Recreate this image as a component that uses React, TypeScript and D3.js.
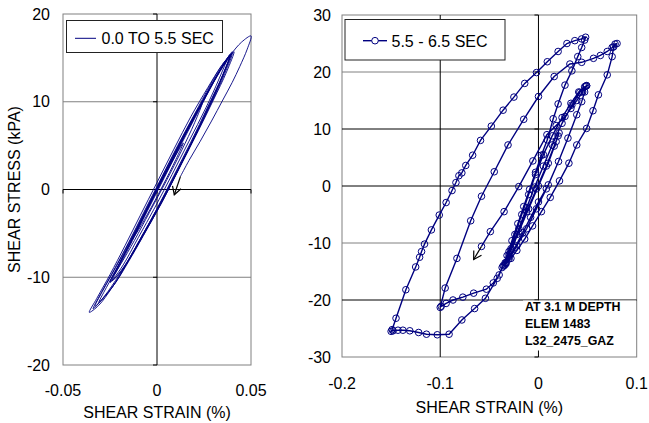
import React from "react";
import * as d3 from "d3";

// Stress-strain history, 0.0 to 5.5 sec: [shear strain (%), shear stress (kPa)]
const earlyStrain: number[] = [
  0.000, 0.005, 0.011, 0.014, 0.010, 0.003, -0.005, -0.011, -0.014, -0.010,
  -0.003, 0.005, 0.013, 0.020, 0.024, 0.020, 0.013, 0.005, -0.004, -0.012,
  -0.019, -0.023, -0.019, -0.011, -0.003, 0.006, 0.015, 0.024, 0.032, 0.038,
  0.041, 0.037, 0.030, 0.022, 0.013, 0.004, -0.005, -0.014, -0.022, -0.029,
  -0.033, -0.029, -0.022, -0.014, -0.006, 0.003, 0.012, 0.021, 0.030, 0.036,
  0.040, 0.036, 0.029, 0.020, 0.011, 0.002, -0.007, -0.016, -0.024, -0.031,
  -0.036, -0.032, -0.025, -0.017, -0.009, 0.000, 0.009, 0.018, 0.027, 0.034,
  0.039, 0.035, 0.028, 0.019, 0.010, 0.001, -0.008, -0.016, -0.022, -0.025,
  -0.021, -0.014, -0.006, 0.003, 0.012, 0.021, 0.029, 0.035, 0.039, 0.035,
  0.028, 0.020, 0.011, 0.002, -0.007, -0.015, -0.022, -0.028, -0.031, -0.027,
  -0.020, -0.012, -0.004, 0.005, 0.014, 0.023, 0.031, 0.037, 0.040, 0.036,
  0.029, 0.021, 0.012, 0.003, -0.006, -0.014, -0.020, -0.024,
  -0.020, -0.013, -0.005, 0.004, 0.013, 0.022, 0.030, 0.036, 0.039,
  0.035, 0.027, 0.018, 0.009, 0.000, -0.009, -0.018, -0.026, -0.032, -0.034,
  -0.030, -0.023, -0.015, -0.007, 0.002, 0.011, 0.020, 0.028, 0.034, 0.037,
  0.033, 0.026, 0.017, 0.008, -0.001, -0.010, -0.018, -0.023, -0.025,
  -0.020, -0.013,
  -0.005, 0.004, 0.013, 0.022, 0.031, 0.039, 0.045, 0.050, 0.048, 0.044,
  0.040, 0.035, 0.029, 0.023, 0.017, 0.0125,
];
const earlyStress: number[] = [
  0.0, 2.0, 4.3, 5.3, 3.4, 0.4, -2.8, -5.0, -5.9, -4.2,
  -1.2, 2.2, 5.6, 8.4, 9.8, 7.6, 4.4, 1.0, -2.6, -5.8,
  -8.4, -9.8, -8.0, -4.8, -1.4, 2.4, 6.2, 9.8, 12.9, 14.9,
  15.7, 13.4, 10.2, 6.7, 2.9, -0.9, -4.4, -7.8, -10.6, -12.5,
  -13.3, -11.6, -8.9, -5.7, -2.3, 1.5, 5.3, 8.9, 12.2, 14.4,
  15.5, 13.2, 9.9, 6.0, 2.1, -1.7, -5.1, -8.4, -11.2, -13.2,
  -14.0, -12.4, -9.7, -6.4, -3.0, 0.8, 4.6, 8.3, 11.6, 14.0,
  15.3, 13.0, 9.6, 5.6, 1.8, -1.9, -5.3, -8.3, -10.0, -10.6,
  -8.9, -6.0, -2.6, 1.2, 5.0, 8.7, 11.9, 14.1, 15.4, 13.1,
  9.8, 6.1, 2.3, -1.4, -4.9, -8.0, -10.6, -12.2, -12.9, -11.2,
  -8.5, -5.2, -1.7, 2.1, 5.9, 9.5, 12.7, 14.8, 15.7, 13.5,
  10.0, 6.4, 2.5, -1.2, -4.7, -7.7, -9.6, -10.4,
  -8.7, -5.8, -2.4, 1.4, 5.2, 8.9, 12.2, 14.5, 15.4,
  13.0, 9.4, 5.4, 1.6, -2.2, -5.7, -9.0, -11.6, -13.2, -13.6,
  -11.9, -9.2, -6.0, -2.6, 1.2, 5.0, 8.6, 11.8, 14.0, 14.8,
  12.6, 9.3, 5.5, 1.7, -2.0, -5.5, -8.6, -10.1, -10.5,
  -8.4, -5.4,
  -2.0, 1.8, 5.6, 9.2, 12.7, 15.3, 16.8, 17.5, 16.0, 14.0,
  12.2, 10.2, 7.8, 5.5, 3.3, 1.5,
];
const earlyEndTip: [number, number] = [0.0092, -0.6];

// Stress-strain history, 5.5 to 6.5 sec
const lateStrain: number[] = [
  0.008, -0.002, -0.012, -0.022, -0.030, -0.034, -0.030, -0.022, -0.012, -0.002,
  0.008, 0.016, 0.020, 0.021, 0.018, 0.010, 0.000, -0.010, -0.020, -0.028,
  -0.034, -0.037, -0.042, -0.054, -0.065, -0.078, -0.091, -0.103, -0.114, -0.122,
  -0.131, -0.138, -0.143, -0.148, -0.150, -0.149, -0.145, -0.135, -0.125, -0.121,
  -0.119, -0.116, -0.109, -0.101, -0.094, -0.088, -0.084, -0.081, -0.078, -0.074,
  -0.067, -0.059, -0.048, -0.036, -0.025, -0.014, -0.002, 0.009, 0.020, 0.029,
  0.037, 0.044, 0.048, 0.047, 0.044, 0.040, 0.034, 0.027, 0.020, 0.015,
  0.009, 0.003, -0.003, -0.009, -0.015, -0.021, -0.027, -0.032, -0.036, -0.040,
  -0.046, -0.053, -0.066, -0.077, -0.087, -0.094, -0.099, -0.100, -0.095, -0.083,
  -0.069, -0.058, -0.045, -0.031, -0.015, 0.000, 0.016, 0.032, 0.044, 0.056,
  0.063, 0.070, 0.075, 0.078, 0.080, 0.0765, 0.075, 0.070, 0.061, 0.0555,
  0.049, 0.039, 0.031, 0.0214, 0.012, 0.003, -0.006, -0.014, -0.022, -0.028,
  -0.033, -0.035, -0.030, -0.024, -0.017, -0.010, -0.003, 0.005, 0.014, 0.024,
  0.033, 0.041, 0.047, 0.049, 0.047, 0.044, 0.039, 0.030, 0.0204, 0.010,
  0.000, -0.008, -0.016, -0.024, -0.030, -0.033, -0.028, -0.020, -0.012, -0.004,
  0.005, 0.014, 0.024, 0.034, 0.042, 0.048, 0.049, 0.045, 0.039, 0.033,
  0.027, 0.018, 0.0086, -0.0057, -0.020, -0.035, -0.049, -0.058,
];
const lateStress: number[] = [
  -0.5, -4.0, -7.5, -10.5, -12.8, -13.8, -12.0, -8.5, -4.5, -0.5,
  3.5, 7.0, 8.8, 9.3, 7.8, 4.0, 0.0, -4.0, -8.0, -11.3,
  -13.5, -14.3, -16.2, -19.7, -21.5, -23.5, -26.0, -26.1, -26.0, -25.7,
  -25.4, -25.3, -25.3, -25.4, -25.5, -25.2, -23.2, -18.2, -14.2, -12.5,
  -11.5, -10.2, -7.7, -5.1, -2.9, -0.8, 0.6, 1.8, 2.3, 3.6,
  5.4, 8.0, 10.5, 13.3, 15.6, 18.0, 19.9, 21.8, 23.6, 25.0,
  25.5, 25.8, 26.1, 25.6, 24.3, 22.7, 20.2, 17.7, 14.4, 11.8,
  8.1, 5.4, 2.4, -0.6, -3.6, -6.6, -9.6, -12.2, -14.0, -15.6,
  -17.0, -18.1, -18.8, -19.5, -20.0, -20.6, -21.1, -21.3, -17.9, -12.7,
  -6.1, -1.8, 2.5, 7.2, 11.7, 15.7, 19.2, 21.4, 21.7, 22.4,
  22.9, 23.6, 24.3, 24.9, 25.0, 24.4, 22.7, 19.5, 16.0, 13.2,
  10.1, 7.2, 4.0, 0.9, -2.0, -4.5, -7.0, -9.3, -11.3, -12.7,
  -13.6, -14.0, -11.5, -8.5, -5.0, -1.5, 2.0, 5.5, 8.8, 12.0,
  14.5, 16.5, 17.4, 17.6, 16.5, 14.8, 12.5, 8.4, 4.3, 0.2,
  -2.8, -5.5, -8.2, -10.8, -12.5, -13.4, -11.0, -7.5, -3.8, -0.2,
  3.5, 7.2, 11.0, 14.2, 16.4, 17.5, 17.6, 16.5, 15.0, 13.6,
  12.2, 10.6, 9.0, 4.4, -0.1, -4.5, -8.0, -10.6,
];
const lateEndTip: [number, number] = [-0.066, -12.9];

// Axis ticks and labels
const leftXTicks = [-0.05, 0, 0.05];
const leftXTickLabels = ["-0.05", "0", "0.05"];
const leftYTicks = [-20, -10, 0, 10, 20];
const rightXTicks = [-0.2, -0.1, 0, 0.1];
const rightXTickLabels = ["-0.2", "-0.1", "0", "0.1"];
const rightYTicks = [-30, -20, -10, 0, 10, 20, 30];
const earlyLegend = "0.0 TO 5.5 SEC";
const lateLegend = "5.5 - 6.5 SEC";
const noteLines = ["AT 3.1 M DEPTH", "ELEM 1483", "L32_2475_GAZ"];
const xTitle = "SHEAR STRAIN (%)";
const yTitle = "SHEAR STRESS (kPA)";

const NAVY = "#000080";
const GRID = "#808080";
const FONT = "'Liberation Sans', Arial, sans-serif";

type Pt = [number, number];
const zip = (a: number[], b: number[]): Pt[] => a.map((v, i) => [v, b[i]]);

function Arrow({ from, to }: { from: Pt; to: Pt }) {
  const ang = Math.atan2(from[1] - to[1], from[0] - to[0]);
  const len = 9;
  const spread = Math.PI / 6;
  const h1: Pt = [to[0] + len * Math.cos(ang + spread), to[1] + len * Math.sin(ang + spread)];
  const h2: Pt = [to[0] + len * Math.cos(ang - spread), to[1] + len * Math.sin(ang - spread)];
  return (
    <g stroke="#000" strokeWidth={1.2} fill="none">
      <line x1={from[0]} y1={from[1]} x2={to[0]} y2={to[1]} />
      <polyline points={`${h1[0]},${h1[1]} ${to[0]},${to[1]} ${h2[0]},${h2[1]}`} />
    </g>
  );
}

export default function App() {
  // Left panel scales
  const lx = d3.scaleLinear().domain([-0.05, 0.05]).range([63, 251]);
  const ly = d3.scaleLinear().domain([-20, 20]).range([365, 14]);
  // Right panel scales
  const rx = d3.scaleLinear().domain([-0.2, 0.1]).range([342, 636.7]);
  const ry = d3.scaleLinear().domain([-30, 30]).range([357, 15]);

  const early = zip(earlyStrain, earlyStress);
  const late = zip(lateStrain, lateStress);

  const earlyPath = d3
    .line<Pt>()
    .x((d) => lx(d[0]))
    .y((d) => ly(d[1]))
    .curve(d3.curveCatmullRom.alpha(0.5))(early) as string;
  const latePath = d3
    .line<Pt>()
    .x((d) => rx(d[0]))
    .y((d) => ry(d[1]))(late) as string;

  const eLast = early[early.length - 1];
  const lLast = late[late.length - 1];

  // horizontal line colours for the right panel
  const rightHColor = (v: number) =>
    v === 10 || v === 0 || v === -20 ? "#000" : GRID;

  return (
    <svg
      width={649}
      height={423}
      style={{ position: "absolute", left: 0, top: 0, background: "#fff" }}
      fontFamily={FONT}
    >
      {/* ---------- Left panel ---------- */}
      <rect x={63} y={14} width={188} height={351} fill="#fff" stroke={GRID} strokeWidth={1} />
      {leftYTicks
        .filter((v) => v !== 20 && v !== -20 && v !== 0)
        .map((v) => (
          <line key={v} x1={63} x2={251} y1={ly(v)} y2={ly(v)} stroke={GRID} strokeWidth={1} />
        ))}
      <line x1={63} x2={251} y1={ly(0)} y2={ly(0)} stroke="#000" strokeWidth={1} />
      <line x1={lx(0)} x2={lx(0)} y1={14} y2={365} stroke="#000" strokeWidth={1} />
      {leftYTicks.map((v) => (
        <line key={v} x1={lx(0) - 4} x2={lx(0)} y1={ly(v)} y2={ly(v)} stroke="#000" strokeWidth={1} />
      ))}
      {leftXTicks.map((v) => (
        <line key={v} x1={lx(v)} x2={lx(v)} y1={ly(0)} y2={ly(0) + 4} stroke="#000" strokeWidth={1} />
      ))}

      <path d={earlyPath} fill="none" stroke={NAVY} strokeWidth={0.9} />
      <Arrow from={[lx(eLast[0]), ly(eLast[1])]} to={[lx(earlyEndTip[0]), ly(earlyEndTip[1])]} />

      {leftYTicks.map((v) => (
        <text key={v} x={50} y={ly(v) + 5.5} fontSize={16} textAnchor="end" fill="#000">
          {v}
        </text>
      ))}
      {leftXTicks.map((v, i) => (
        <text key={v} x={lx(v)} y={395.5} fontSize={16} textAnchor="middle" fill="#000">
          {leftXTickLabels[i]}
        </text>
      ))}
      <text x={157} y={418} fontSize={16} textAnchor="middle" fill="#000">
        {xTitle}
      </text>
      <text
        x={0}
        y={0}
        fontSize={16}
        textAnchor="middle"
        fill="#000"
        transform={`translate(20,${(14 + 365) / 2}) rotate(-90)`}
      >
        {yTitle}
      </text>

      {/* Left legend */}
      <rect x={66.5} y={20.5} width={156} height={32} fill="#fff" stroke="#222" strokeWidth={1} />
      <line x1={75} x2={96} y1={38.3} y2={38.3} stroke={NAVY} strokeWidth={1} />
      <text x={101.5} y={43.5} fontSize={16} fill="#000">
        {earlyLegend}
      </text>

      {/* ---------- Right panel ---------- */}
      <rect x={342} y={15} width={294.7} height={342} fill="#fff" stroke={GRID} strokeWidth={1} />
      {rightYTicks
        .filter((v) => v !== 30 && v !== -30)
        .map((v) => (
          <line
            key={v}
            x1={342}
            x2={636.7}
            y1={ry(v)}
            y2={ry(v)}
            stroke={rightHColor(v)}
            strokeWidth={1}
          />
        ))}
      {[-0.1, 0].map((v) => (
        <line key={v} x1={rx(v)} x2={rx(v)} y1={15} y2={357} stroke="#000" strokeWidth={1} />
      ))}
      {rightYTicks.map((v) => (
        <line key={v} x1={rx(0) - 4} x2={rx(0)} y1={ry(v)} y2={ry(v)} stroke="#000" strokeWidth={1} />
      ))}

      {/* Note box */}
      <rect x={523} y={300.5} width={113} height={50} fill="#fff" />
      {noteLines.map((t, i) => (
        <text key={t} x={525} y={311 + i * 17.2} fontSize={12.4} fontWeight="bold" fill="#000">
          {t}
        </text>
      ))}

      <path d={latePath} fill="none" stroke={NAVY} strokeWidth={1.4} />
      {late.map((d, i) => (
        <circle key={i} cx={rx(d[0])} cy={ry(d[1])} r={3.3} fill="none" stroke={NAVY} strokeWidth={1} />
      ))}
      <Arrow from={[rx(lLast[0]), ry(lLast[1])]} to={[rx(lateEndTip[0]), ry(lateEndTip[1])]} />

      {rightYTicks.map((v) => (
        <text key={v} x={331} y={ry(v) + 5.5} fontSize={16} textAnchor="end" fill="#000">
          {v}
        </text>
      ))}
      {rightXTicks.map((v, i) => (
        <text key={v} x={rx(v)} y={388.5} fontSize={16} textAnchor="middle" fill="#000">
          {rightXTickLabels[i]}
        </text>
      ))}
      <text x={489.3} y={413} fontSize={16} textAnchor="middle" fill="#000">
        {xTitle}
      </text>

      {/* Right legend */}
      <rect x={345} y={19.5} width={160} height={40.5} fill="#fff" stroke="#222" strokeWidth={1} />
      <line x1={363} x2={387} y1={40.7} y2={40.7} stroke={NAVY} strokeWidth={1.4} />
      <circle cx={375} cy={40.7} r={3.3} fill="#fff" stroke={NAVY} strokeWidth={1} />
      <text x={391.5} y={47} fontSize={16} fill="#000">
        {lateLegend}
      </text>
    </svg>
  );
}
